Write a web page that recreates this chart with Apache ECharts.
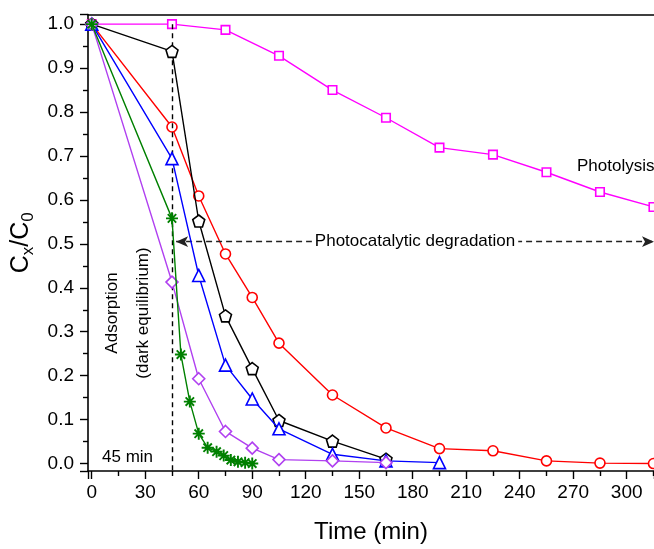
<!DOCTYPE html>
<html>
<head>
<meta charset="utf-8">
<script src="https://cdn.jsdelivr.net/npm/echarts@6/dist/echarts.min.js"></script>
<style>
html,body{margin:0;padding:0;background:#fff;}
#main{width:654px;height:549px;}
</style>
</head>
<body>
<div id="main"></div>
<script>
// 时间 (min)
var tMain = [0, 45, 60, 75, 90, 105, 135, 165];
var tBlue = [0, 45, 60, 75, 90, 105, 135, 165, 195];
var tLong = [0, 45, 60, 75, 90, 105, 135, 165, 195, 225, 255, 285, 315];
var tPhoto = [0, 45, 75, 105, 135, 165, 195, 225, 255, 285, 315];
var tGreen = [0, 45, 50, 55, 60, 65, 70, 74, 78, 82, 86, 90];

// Cx/C0
var photolysis = [1.0, 1.0, 0.987, 0.928, 0.850, 0.787, 0.719, 0.703, 0.663, 0.618, 0.584];
var redVals = [1.0, 0.766, 0.609, 0.477, 0.378, 0.274, 0.156, 0.081, 0.034, 0.029, 0.006, 0.001, 0.0];
var blackVals = [1.0, 0.938, 0.552, 0.336, 0.216, 0.098, 0.051, 0.010];
var blueVals = [1.0, 0.694, 0.428, 0.224, 0.147, 0.079, 0.021, 0.006, 0.002];
var purpleVals = [1.0, 0.413, 0.193, 0.073, 0.035, 0.009, 0.006, 0.002];
var greenVals = [1.0, 0.558, 0.248, 0.141, 0.068, 0.036, 0.027, 0.018, 0.008, 0.004, 0.002, 0.0];

var FONT = '"Liberation Sans", Arial, sans-serif';

function pairs(xs, ys) {
  return xs.map(function (x, i) { return [x, ys[i]]; });
}

var pentagon = 'path://M5,0L9.76,3.45L7.94,9.05L2.06,9.05L0.24,3.45Z';
var asterisk = 'path://M0,5L10,5M5,0L5,10M1.5,1.5L8.5,8.5M8.5,1.5L1.5,8.5';

function mkSeries(name, data, color, symbol, size, z) {
  return {
    name: name,
    type: 'line',
    data: data,
    symbol: symbol,
    symbolSize: size,
    z: z,
    lineStyle: { color: color, width: 1.4 },
    itemStyle: { color: '#fff', borderColor: color, borderWidth: 1.6 },
    emphasis: { disabled: true },
    animation: false
  };
}

var myChart = echarts.init(document.getElementById('main'));

var series = [
  mkSeries('Photolysis', pairs(tPhoto, photolysis), '#FF00FF', 'rect', 8.5, 3),
  mkSeries('red', pairs(tLong, redVals), '#FF0000', 'circle', 10, 4),
  mkSeries('black', pairs(tMain, blackVals), '#000000', pentagon, 12, 5),
  mkSeries('blue', pairs(tBlue, blueVals), '#0000FF', 'triangle', 12, 6),
  mkSeries('purple', pairs(tMain, purpleVals), '#B040F0', 'diamond', 12, 7)
];
var green = mkSeries('green', pairs(tGreen, greenVals), '#008000', asterisk, 12, 8);
green.itemStyle = { color: 'none', borderColor: '#008000', borderWidth: 1.9 };
series.push(green);

// 虚线和箭头
series[0].markLine = {
  silent: true,
  animation: false,
  symbol: ['none', 'none'],
  lineStyle: { color: '#000', type: [5, 4], width: 1.4 },
  label: { show: false },
  data: [
    [{ coord: [45, 1.0] }, { coord: [45, -0.017] }],
    [
      { coord: [47.3, 0.505], symbol: 'arrow', symbolSize: [8, 12],
        lineStyle: { color: '#222', type: [6, 4], width: 1.3 },
        label: {
          show: true, position: 'middle', distance: 0, verticalAlign: 'middle',
          formatter: 'Photocatalytic degradation', color: '#000',
          fontFamily: FONT, fontSize: 17, backgroundColor: '#fff', padding: [0, 3]
        } },
      { coord: [315.3, 0.505], symbol: 'arrow', symbolSize: [8, 12] }
    ]
  ]
};

var option = {
  backgroundColor: '#fff',
  animation: false,
  textStyle: { fontFamily: FONT },
  grid: { left: 88, top: 14.5, right: 0, bottom: 73 },
  xAxis: [{
    type: 'value',
    min: -2.1,
    max: 315.3,
    splitNumber: 10,
    minInterval: 30,
    maxInterval: 30,
    name: 'Time (min)',
    nameLocation: 'middle',
    nameGap: 49,
    nameTextStyle: { fontSize: 24, color: '#000', fontFamily: FONT },
    axisLine: { show: true, onZero: false, lineStyle: { color: '#000', width: 1.6 } },
    axisTick: { show: true, inside: false, length: 8, lineStyle: { color: '#000', width: 1.4 } },
    minorTick: { show: true, splitNumber: 2, length: 5, lineStyle: { color: '#000', width: 1.4 } },
    axisLabel: {
      color: '#000', fontSize: 19, fontFamily: FONT, margin: 12,
      showMinLabel: false, showMaxLabel: false,
      formatter: function (v) { return Math.round(v) + ''; }
    },
    splitLine: { show: false }
  }, {
    type: 'value',
    position: 'top',
    min: -2.1,
    max: 315.3,
    axisLine: { show: true, onZero: false, lineStyle: { color: '#000', width: 1.6 } },
    axisTick: { show: false },
    axisLabel: { show: false },
    splitLine: { show: false }
  }],
  yAxis: {
    type: 'value',
    min: -0.017,
    max: 1.022,
    splitNumber: 10,
    minInterval: 0.1,
    maxInterval: 0.1,
    name: '{a|C}{s|x}{a|/C}{s|0}',
    nameLocation: 'middle',
    nameRotate: 90,
    nameGap: 46,
    nameTextStyle: {
      rich: {
        a: { fontSize: 25, lineHeight: 32, color: '#000', fontFamily: FONT, verticalAlign: 'middle' },
        s: { fontSize: 17, lineHeight: 17, color: '#000', fontFamily: FONT, verticalAlign: 'bottom' }
      }
    },
    axisLine: { show: true, onZero: false, lineStyle: { color: '#000', width: 1.6 } },
    axisTick: { show: true, inside: false, length: 8, lineStyle: { color: '#000', width: 1.4 } },
    minorTick: { show: true, splitNumber: 2, length: 5, lineStyle: { color: '#000', width: 1.4 } },
    axisLabel: {
      color: '#000', fontSize: 19, fontFamily: FONT, margin: 14,
      showMinLabel: false, showMaxLabel: false,
      formatter: function (v) { return Math.abs(v).toFixed(1); }
    },
    splitLine: { show: false }
  },
  graphic: [
    { type: 'text', x: 577, y: 166, z: 100,
      style: { text: 'Photolysis', fill: '#000', font: '17px ' + FONT, textVerticalAlign: 'middle' } },
    { type: 'text', x: 112, y: 313, rotation: Math.PI / 2, z: 100,
      style: { text: 'Adsorption', fill: '#000', font: '17px ' + FONT, textAlign: 'center', textVerticalAlign: 'middle' } },
    { type: 'text', x: 143, y: 313, rotation: Math.PI / 2, z: 100,
      style: { text: '(dark equilibrium)', fill: '#000', font: '17px ' + FONT, textAlign: 'center', textVerticalAlign: 'middle' } },
    { type: 'text', x: 102, y: 457, z: 100,
      style: { text: '45 min', fill: '#000', font: '17px ' + FONT, textVerticalAlign: 'middle' } }
  ],
  series: series
};
myChart.setOption(option);
</script>
</body>
</html>
